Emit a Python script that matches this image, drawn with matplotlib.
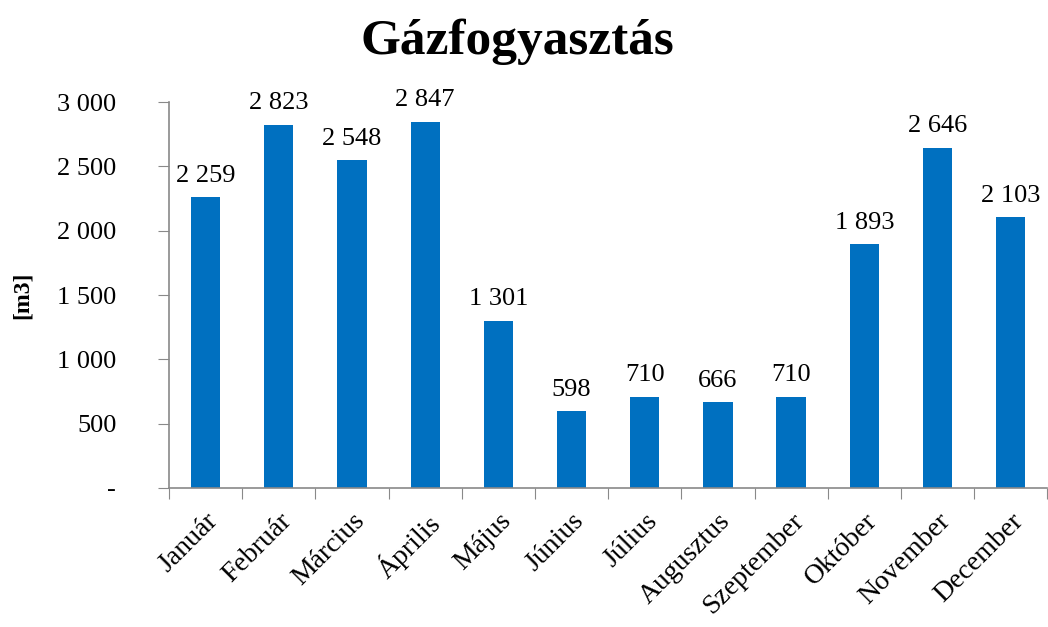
import matplotlib
matplotlib.use("Agg")
import matplotlib.pyplot as plt
from matplotlib.ticker import FuncFormatter

months = ["Január", "Február", "Március", "Április", "Május", "Június",
          "Július", "Augusztus", "Szeptember", "Október", "November", "December"]
consumption = [2259, 2823, 2548, 2847, 1301, 598, 710, 666, 710, 1893, 2646, 2103]
y_ticks = [0, 500, 1000, 1500, 2000, 2500, 3000]

plt.rcParams["font.family"] = ["Liberation Serif", "DejaVu Serif"]


def fmt_thousands(value, pos=None):
    if value == 0:
        return "-"
    return f"{int(value):,}".replace(",", " ")


fig = plt.figure(figsize=(10.48, 6.27), dpi=100)
ax = fig.add_axes([0.1613, 0.2217, 0.838, 0.6156])

x = range(len(months))
ax.bar(x, consumption, width=0.4, color="#0070C0")

for xi, val in zip(x, consumption):
    ax.text(xi, val + 80, fmt_thousands(val), ha="center", va="bottom", fontsize=19)

ax.set_xlim(-0.5, len(months) - 0.5)
ax.set_ylim(0, 3000)
ax.set_yticks(y_ticks)
ax.yaxis.set_major_formatter(FuncFormatter(fmt_thousands))
ax.tick_params(axis="y", labelsize=19, length=8, color="#898989", direction="out", pad=30)

# category ticks sit between bars
ax.set_xticks([i - 0.5 for i in range(len(months) + 1)])
ax.set_xticklabels([])
ax.tick_params(axis="x", length=8, color="#898989", direction="out")
for xi, name in zip(x, months):
    ax.text(xi, -160, name, rotation=45, ha="right", va="top",
            rotation_mode="anchor", fontsize=20)

for side in ["top", "right"]:
    ax.spines[side].set_visible(False)
for side in ["left", "bottom"]:
    ax.spines[side].set_color("#898989")
    ax.spines[side].set_linewidth(1.2)

ax.set_ylabel("[m3]", fontsize=17, fontweight="bold")
ax.yaxis.set_label_coords(-0.155, 0.5)
fig.text(0.494, 0.933, "Gázfogyasztás", ha="center", va="center",
         fontsize=37, fontweight="bold")

fig.savefig("out.png", dpi=100)
